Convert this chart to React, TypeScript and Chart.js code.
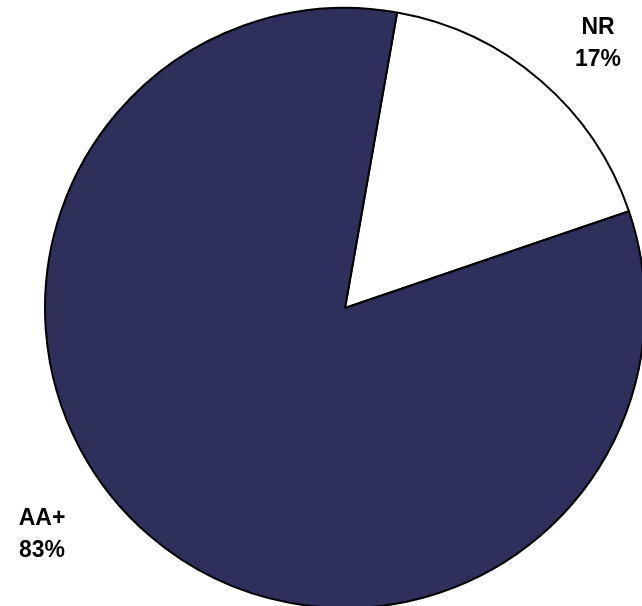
import React, { useEffect, useRef } from "react";
import { Chart, registerables } from "chart.js";

Chart.register(...registerables);

const categories = ["NR", "AA+"];
const values = [17, 83];
const percentLabels = ["17%", "83%"];
const colors = ["#FFFFFF", "#2E2F5A"];
// label anchor offsets from pie centre (styling)
const labelOffsets = [
  [253, -264],
  [-303, 227],
];

const labelPlugin = {
  id: "pieLabels",
  afterDraw(chart: any) {
    const ctx = chart.ctx;
    const meta = chart.getDatasetMeta(0);
    ctx.save();
    ctx.fillStyle = "#000";
    ctx.font = "bold 23px 'Liberation Sans', Arial, sans-serif";
    ctx.textAlign = "center";
    ctx.textBaseline = "middle";
    meta.data.forEach((arc: any, i: number) => {
      const cx = arc.x + labelOffsets[i][0];
      const cy = arc.y + labelOffsets[i][1];
      ctx.fillText(categories[i], cx, cy - 16);
      ctx.fillText(percentLabels[i], cx, cy + 16);
    });
    ctx.restore();
  },
};

export default function App() {
  const ref = useRef<HTMLCanvasElement>(null);
  useEffect(() => {
    if (!ref.current) return;
    const chart = new Chart(ref.current, {
      type: "pie",
      data: {
        labels: categories,
        datasets: [
          {
            data: values,
            backgroundColor: colors,
            borderColor: "#000",
            borderWidth: 2,
          },
        ],
      },
      options: {
        responsive: false,
        animation: false,
        rotation: 10,
        layout: { padding: 7 },
        plugins: { legend: { display: false }, tooltip: { enabled: false } },
      },
      plugins: [labelPlugin],
    });
    return () => chart.destroy();
  }, []);
  return (
    <div
      style={{
        position: "fixed",
        left: 0,
        top: 0,
        width: 642,
        height: 606,
        overflow: "hidden",
        background: "#fff",
      }}
    >
      <canvas
        ref={ref}
        width={690}
        height={616}
        style={{ position: "absolute", left: 0, top: 0, width: 690, height: 616 }}
      />
    </div>
  );
}
